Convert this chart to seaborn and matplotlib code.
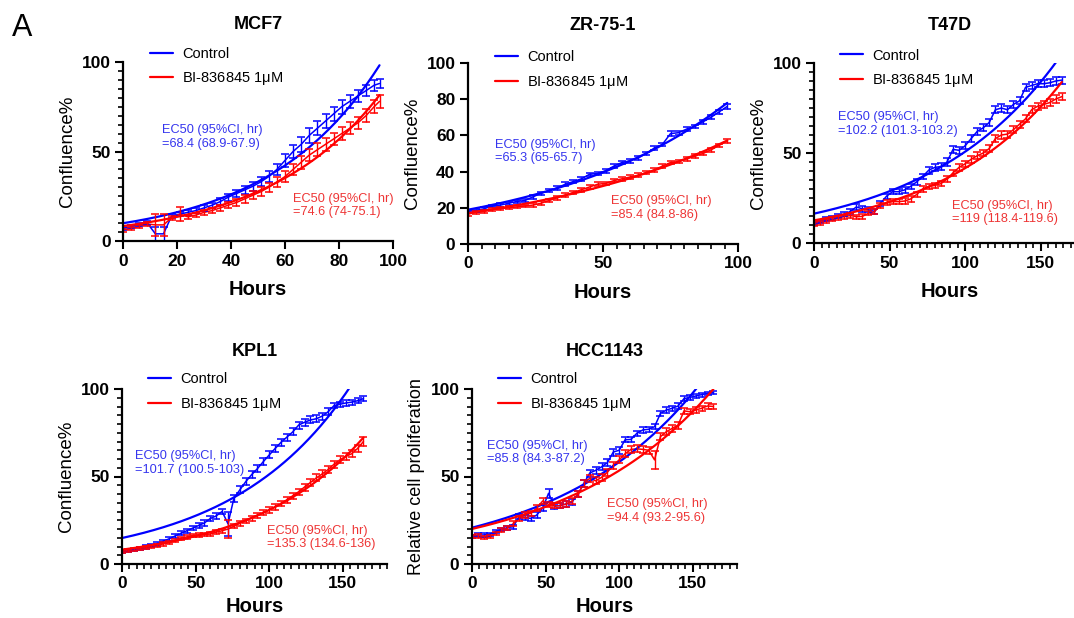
import numpy as np
import pandas as pd
import matplotlib as mpl
mpl.use("Agg")
from matplotlib import pyplot as plt
from matplotlib.ticker import MultipleLocator
import seaborn as sns

# ---- data (hours, mean confluence, error) ----
mcf7_hours = [0, 3, 6, 9, 12, 15, 18, 21, 24, 27, 30, 33, 36, 39, 42, 45, 48, 51, 54, 57,
              60, 63, 66, 69, 72, 75, 78, 81, 84, 87, 90, 93, 95]
mcf7_ctrl = [7, 8, 9, 10, 4, 4, 14, 15, 16, 17, 18.5, 20, 22, 24.5, 26.5, 28.5, 30.5, 33, 36, 40,
             45, 50, 54, 59, 63, 67, 71, 75, 78, 81, 84, 87, 88]
mcf7_ctrl_err = [0.8, 0.8, 0.8, 1, 4, 4, 1, 1, 1.2, 1.2, 1.5, 1.5, 1.8, 2, 2, 2.2, 2.5, 2.5, 3, 3,
                 3.5, 3.5, 4, 4, 4, 4, 4, 4, 3.5, 3.5, 3, 3, 2.5]
mcf7_bi = [6, 7, 8, 9.5, 9, 9, 13, 15, 13.5, 14.5, 16, 17, 18.5, 20, 21.5, 23.5, 25.5, 27.5, 30, 33,
           36, 40, 44, 48, 51, 54, 57, 60, 63, 66, 70, 75, 78]
mcf7_bi_err = [0.8, 0.8, 0.8, 1, 6, 6, 1, 4, 1, 1.2, 1.3, 1.5, 1.5, 1.8, 2, 2, 2.2, 2.5, 2.5, 3,
               3, 3, 3.5, 3.5, 3.5, 3.5, 3.5, 3.5, 3.5, 3.5, 3.5, 3.5, 3.5]

zr_hours = [0, 3, 6, 9, 12, 15, 18, 21, 24, 27, 30, 33, 36, 39, 42, 45, 48, 51, 54, 57,
            60, 63, 66, 69, 72, 75, 78, 81, 84, 87, 90, 93, 96]
zr_ctrl = [18, 18.5, 19.5, 21, 21.5, 22.5, 23.5, 24, 26, 28, 29.5, 31, 33, 34.5, 36, 38.5, 39, 40.5, 43, 45,
           46, 47.5, 50, 53, 55, 61, 61.5, 63.5, 65, 67.5, 70, 73, 76]
zr_ctrl_err = [0.8, 0.8, 0.8, 0.8, 0.9, 0.9, 0.9, 0.9, 1, 1, 1, 1, 1, 1, 1, 1, 1, 1, 1, 1,
               1, 1.2, 1, 1, 1, 1.2, 1.2, 1, 1, 1, 1, 1, 1.2]
zr_bi = [16.5, 17.5, 18, 19, 19.5, 20, 20.5, 21, 21.5, 22.5, 24, 25.5, 27, 28.5, 30, 31.5, 33, 33.5, 35, 36,
         37, 38, 39.5, 41, 43, 45, 45.5, 47, 48.5, 50, 52, 54.5, 57]
zr_bi_err = [0.8, 0.8, 0.8, 0.8, 0.8, 0.8, 0.8, 0.8, 1, 1, 1, 1, 1, 1, 1, 1, 1, 1, 1, 1,
             1, 1, 1, 1, 1, 1, 1, 1, 1, 1, 1, 1, 1.2]

long_hours = [0, 4, 8, 12, 16, 20, 24, 28, 32, 36, 40, 44, 48, 52, 56, 60, 64, 68, 72, 76,
              80, 84, 88, 92, 96, 100, 104, 108, 112, 116, 120, 124, 128, 132, 136, 140, 144, 148,
              152, 156, 160, 164]

t47d_ctrl = [11, 12, 13.2, 14, 15, 16, 17.5, 20, 19, 18.5, 17.5, 22, 26, 28.5, 28.5, 29.5, 31.5, 34, 37, 40.5,
             42, 42.5, 45, 52, 51.5, 54, 58, 62, 64, 67, 74, 75, 74, 77, 79, 86.5, 87.5, 88.5,
             88.5, 89, 90, 90.5]
t47d_ctrl_err = [1, 1, 1, 1, 1.2, 1.2, 1.2, 1.5, 1.5, 1.5, 1.5, 1.5, 1.5, 1.5, 1.5, 1.5, 1.5, 1.5, 1.5, 2,
                 2, 2, 2, 2, 2, 2, 2, 2, 2, 2, 2, 2, 2, 2, 2, 2, 2, 2, 2, 2, 2, 2]
t47d_bi = [10.4, 11.2, 12.3, 13.2, 14, 14.6, 15.3, 14.6, 14.8, 16.5, 17.4, 21, 22.5, 23, 23, 23.3, 24.5, 27, 30, 31.5,
           32, 33, 35.5, 39, 42, 44, 46.5, 48.5, 50, 52.5, 58, 60, 60.5, 63, 66, 69, 74, 76,
           77, 78, 80, 81.3]
t47d_bi_err = [1, 1, 1, 1, 1, 1.2, 1.2, 1.2, 1.2, 1.2, 1.5, 1.5, 1.5, 1.5, 1.5, 1.5, 1.5, 1.5, 1.5, 1.5,
               1.5, 1.5, 1.8, 1.8, 1.8, 1.8, 1.8, 1.8, 1.8, 2, 2, 2, 2, 2, 2, 2, 2, 2, 2, 2, 2, 2]

kpl1_ctrl = [7, 7.5, 8, 8.8, 9.6, 10.5, 11.5, 13, 14.4, 16, 17.5, 19, 20.5, 22, 23.5, 26, 27.5, 30, 23, 37.5,
             42.3, 47, 51, 54.5, 58.5, 62.3, 66, 69.5, 72.5, 75.5, 79.4, 81, 82.3, 83, 84.5, 87, 90.5, 91.3,
             92, 92.5, 93.3, 94.5]
kpl1_ctrl_err = [0.8, 0.8, 0.8, 0.8, 1, 1, 1, 1, 1, 1.2, 1.2, 1.2, 1.2, 1.5, 1.5, 1.5, 1.5, 1.5, 7, 2,
                 2, 2, 2, 2, 2, 2, 2, 2, 2, 2, 2, 2, 2, 2, 2, 2, 1.5, 1.5, 1.5, 1.5, 1.5, 1.5]
kpl1_bi = [7, 7.6, 8.2, 8.8, 9.4, 10, 10.8, 11.5, 12.3, 13.5, 14.7, 15.5, 16.3, 16.7, 16.9, 17.1, 18.2, 19, 20, 21.6,
           23.2, 24.6, 26.2, 27.8, 29.4, 30.9, 32.6, 34.6, 36.7, 39, 41.3, 44, 46.6, 49.2, 51.5, 54, 57, 59.5,
           61.5, 63, 66, 70]
kpl1_bi_err = [0.8, 0.8, 0.8, 0.8, 0.8, 0.8, 0.8, 1, 1, 1, 1, 1, 1, 1, 1, 1, 1, 1.2, 5, 1.2,
               1.2, 1.2, 1.5, 1.5, 1.5, 1.5, 1.5, 1.5, 1.8, 1.8, 1.8, 2, 2, 2, 2, 2, 2, 2, 2, 2, 2, 2.5]

hcc_ctrl = [15.6, 16.6, 16.6, 17, 18.5, 19.8, 20.8, 21.3, 27, 26.7, 26, 28, 32, 40.4, 33, 33.5, 34.3, 35.5, 40, 46,
            52, 53.5, 55.5, 58, 64, 65, 71, 71.2, 74.7, 76.6, 77, 78.5, 86, 88, 89, 90.3, 94.5, 95.2,
            96, 96.8, 97.5, 98]
hcc_ctrl_err = [1, 1, 1, 1, 1, 1, 1.2, 1.2, 1.5, 1.5, 1.5, 1.5, 1.5, 2.5, 1.5, 1.5, 1.5, 1.5, 1.5, 2,
                2, 2, 2, 2, 2, 2, 1.5, 1.5, 1.5, 1.5, 1.5, 1.5, 1.5, 1.5, 1.5, 1.5, 1.5, 1.2, 1.2, 1.2, 1, 1]
hcc_bi = [15.6, 16, 15.2, 15.6, 17.5, 19.4, 20.4, 23, 26, 28, 29, 32, 36, 34, 33.3, 33.3, 34.3, 36, 40, 46,
          49, 47.5, 49.5, 52.5, 56.5, 59.5, 63, 65.5, 65.8, 65.5, 65, 59.5, 72.8, 75.6, 77.5, 79.4, 87.5, 87,
          88, 89, 90.3, 90]
hcc_bi_err = [1, 1, 1, 1, 1, 1, 1.2, 1.5, 1.5, 1.5, 1.5, 1.5, 1.5, 1.5, 1.5, 1.5, 1.5, 1.5, 1.5, 2,
              2, 2, 2, 2, 2, 2, 2, 2, 2, 2, 2, 5, 2, 2, 2, 2, 1.5, 1.5, 1.5, 1.5, 1.5, 1.5]

titles = ["MCF7", "ZR-75-1", "T47D", "KPL1", "HCC1143"]
ylabels = ["Confluence%", "Confluence%", "Confluence%", "Confluence%", "Relative cell proliferation"]
ec50_ctrl = ["=68.4 (68.9-67.9)", "=65.3 (65-65.7)", "=102.2 (101.3-103.2)", "=101.7 (100.5-103)", "=85.8 (84.3-87.2)"]
ec50_bi = ["=74.6 (74-75.1)", "=85.4 (84.8-86)", "=119 (118.4-119.6)", "=135.3 (134.6-136)", "=94.4 (93.2-95.6)"]
groups = ["Control", "BI-836845 1$\\mathregular{\\mu}$M"]

BLUE = "#0000ff"
RED = "#ff0000"


def exp_fit(x, y):
    # least squares fit of y = a*exp(b*x), started from a weighted log fit
    x = np.asarray(x, float)
    y = np.asarray(y, float)
    b, la = np.polyfit(x, np.log(y), 1, w=y)
    a = np.exp(la)
    for _ in range(60):
        e = np.exp(b * x)
        J = np.column_stack([e, a * x * e])
        d, *_ = np.linalg.lstsq(J, y - a * e, rcond=None)
        a, b = a + d[0], b + d[1]
    return a, b


def make_df(hours, ctrl, ctrl_err, bi, bi_err):
    return pd.DataFrame({
        "Hours": list(hours) * 2,
        "value": list(ctrl) + list(bi),
        "err": list(ctrl_err) + list(bi_err),
        "group": [groups[0]] * len(ctrl) + [groups[1]] * len(bi),
    })


panels = [
    make_df(mcf7_hours, mcf7_ctrl, mcf7_ctrl_err, mcf7_bi, mcf7_bi_err),
    make_df(zr_hours, zr_ctrl, zr_ctrl_err, zr_bi, zr_bi_err),
    make_df(long_hours, t47d_ctrl, t47d_ctrl_err, t47d_bi, t47d_bi_err),
    make_df(long_hours, kpl1_ctrl, kpl1_ctrl_err, kpl1_bi, kpl1_bi_err),
    make_df(long_hours, hcc_ctrl, hcc_ctrl_err, hcc_bi, hcc_bi_err),
]

sns.set_style("ticks")
plt.rcParams["font.family"] = ["Liberation Sans", "DejaVu Sans"]
plt.rcParams["mathtext.fontset"] = "custom"
plt.rcParams["mathtext.rm"] = "Liberation Sans"
plt.rcParams.update({"text.color": "black", "axes.labelcolor": "black",
                     "xtick.color": "black", "ytick.color": "black"})

W, H = 1074, 618
fig = plt.figure(figsize=(W / 100, H / 100), dpi=100)

# axes boxes in pixels: (x0, y_bottom, x1, y_top) from the reference picture
boxes = [(123, 241, 393, 62), (468, 244, 738, 63), (814, 243, 1086, 63),
         (122, 564, 387, 389), (472, 564, 737, 389)]
xlims = [100, 100, 180, 180, 180]
xmajor = [20, 50, 50, 50, 50]
xminor = [None, 5, 5, 5, 5]
ymajor = [50, 20, 50, 50, 50]
yminor = [5, None, 5, 5, 5]
xlabelpad = [8, 8, 8, 4, 4]
legend_xy = [(0.10, 1.085), (0.10, 1.07), (0.096, 1.08), (0.098, 1.095), (0.098, 1.095)]
text_ctrl_xy = [(0.144, 0.581), (0.10, 0.511), (0.088, 0.661), (0.049, 0.577), (0.057, 0.637)]
text_bi_xy = [(0.63, 0.20), (0.53, 0.199), (0.507, 0.169), (0.547, 0.151), (0.509, 0.303)]

for i, df in enumerate(panels):
    x0, yb, x1, yt = boxes[i]
    ax = fig.add_axes([x0 / W, 1 - yb / H, (x1 - x0) / W, (yb - yt) / H])

    sns.lineplot(data=df, x="Hours", y="value", hue="group", palette=[BLUE, RED],
                 linewidth=1.1, ax=ax, legend=False, sort=False)
    for g, c in zip(groups, [BLUE, RED]):
        sub = df[df["group"] == g]
        ax.errorbar(sub["Hours"], sub["value"], yerr=sub["err"], fmt="none",
                    ecolor=c, elinewidth=1.0, capsize=2.8, capthick=1.1)
        a, b = exp_fit(sub["Hours"], sub["value"])
        xs = np.linspace(0, sub["Hours"].max(), 200)
        ax.plot(xs, a * np.exp(b * xs), color=c, lw=1.6)

    ax.set_xlim(0, xlims[i])
    ax.set_ylim(0, 100)
    ax.xaxis.set_major_locator(MultipleLocator(xmajor[i]))
    ax.yaxis.set_major_locator(MultipleLocator(ymajor[i]))
    if xminor[i]:
        ax.xaxis.set_minor_locator(MultipleLocator(xminor[i]))
    if yminor[i]:
        ax.yaxis.set_minor_locator(MultipleLocator(yminor[i]))
    sns.despine(ax=ax)
    for s in ["left", "bottom"]:
        ax.spines[s].set_linewidth(1.6)
        ax.spines[s].set_color("black")
    ax.tick_params(which="major", length=6, width=1.5, labelsize=12.5, pad=3, color="black")
    ax.tick_params(which="minor", length=3.5, width=1.2, color="black")
    for lab in ax.get_xticklabels() + ax.get_yticklabels():
        lab.set_fontweight("bold")

    ax.set_xlabel("Hours", fontsize=14.5, fontweight="bold", labelpad=xlabelpad[i])
    ax.set_ylabel(ylabels[i], fontsize=13.5 if i < 4 else 13, labelpad=4)
    ax.set_title(titles[i], fontsize=13, fontweight="bold", pad=24)

    handles = [mpl.lines.Line2D([], [], color=c, lw=1.6) for c in [BLUE, RED]]
    ax.legend(handles, groups, loc="upper left", bbox_to_anchor=legend_xy[i], frameon=False,
              fontsize=10.5, handlelength=1.6, handletextpad=0.6, labelspacing=0.65,
              borderpad=0, borderaxespad=0)

    ax.text(*text_ctrl_xy[i], "EC50 (95%CI, hr)\n" + ec50_ctrl[i], transform=ax.transAxes,
            color="#3535ee", fontsize=9.2, va="center", ha="left", linespacing=1.15)
    ax.text(*text_bi_xy[i], "EC50 (95%CI, hr)\n" + ec50_bi[i], transform=ax.transAxes,
            color="#ee3535", fontsize=9.2, va="center", ha="left", linespacing=1.15)

fig.text(12 / W, 1 - 36 / H, "A", fontsize=22, ha="left", va="baseline")

fig.savefig("out.png", dpi=100)
